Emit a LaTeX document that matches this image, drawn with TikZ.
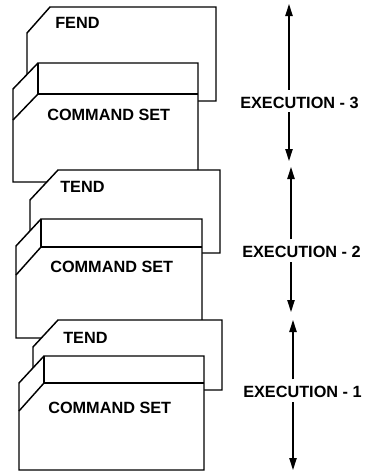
\documentclass[tikz,border=0pt]{standalone}
\usepackage{fontspec}
\setmainfont{Liberation Sans}
\usetikzlibrary{arrows.meta}

\begin{document}
\begin{tikzpicture}[x=0.75pt, y=-0.75pt,
  page/.style={draw, fill=white, line width=1.1pt, line join=miter},
  fold/.style={draw, line width=1.1pt},
  tag/.style={font=\fontsize{12.2}{14}\selectfont\bfseries, inner sep=0pt, anchor=west},
  span/.style={line width=0.9pt, -{Triangle[length=9pt,width=5.5pt]}}]
\useasboundingbox (0,0) rectangle (367,472);

% Execution 3: FEND page behind its command set
\draw[page] (50,7) -- (216,7) -- (216,101) -- (27,101) -- (27,33) -- cycle;
\node[tag] (fend) at (55,23) {FEND};
\draw[page] (38,63) -- (198,63) -- (198,182) -- (13,182) -- (13,89) -- cycle;
\draw[fold] (38,63) -- (38,94) -- (198,94);
\draw[fold] (38,94) -- (13,120);
\node[tag] (cmd3) at (47,115) {COMMAND SET};

% Execution 2: TEND page behind its command set
\draw[page] (58,170) -- (220,170) -- (220,253) -- (30,253) -- (30,200) -- cycle;
\node[tag] (tend2) at (60,187) {TEND};
\draw[page] (41,219) -- (202,219) -- (202,338) -- (16,338) -- (16,246) -- cycle;
\draw[fold] (41,219) -- (41,247) -- (202,247);
\draw[fold] (41,247) -- (16,275);
\node[tag] (cmd2) at (50,267) {COMMAND SET};

% Execution 1: TEND page behind its command set
\draw[page] (58,320) -- (222,320) -- (222,390) -- (33,390) -- (33,347) -- cycle;
\node[tag] (tend1) at (63,338) {TEND};
\draw[page] (44,356) -- (204,356) -- (204,470) -- (19,470) -- (19,383) -- cycle;
\draw[fold] (44,356) -- (44,383) -- (204,383);
\draw[fold] (44,383) -- (19,411);
\node[tag] (cmd1) at (48,408) {COMMAND SET};

% Execution spans on the right
\coordinate (e3top) at (289,4);
\coordinate (e3bot) at (289,161);
\node[tag] (ex3) at (240,103) {EXECUTION - 3};
\draw[span, shorten <=5.5pt] (ex3.north -| e3top) -- (e3top);
\draw[span, shorten <=2.5pt] (ex3.south -| e3bot) -- (e3bot);

\coordinate (e2top) at (291,167);
\coordinate (e2bot) at (291,312);
\node[tag] (ex2) at (242,252) {EXECUTION - 2};
\draw[span, shorten <=5pt] (ex2.north -| e2top) -- (e2top);
\draw[span, shorten <=3pt] (ex2.south -| e2bot) -- (e2bot);

\coordinate (e1top) at (293,320);
\coordinate (e1bot) at (293,470);
\node[tag] (ex1) at (243,392) {EXECUTION - 1};
\draw[span, shorten <=5pt] (ex1.north -| e1top) -- (e1top);
\draw[span, shorten <=3pt] (ex1.south -| e1bot) -- (e1bot);

\end{tikzpicture}
\end{document}
